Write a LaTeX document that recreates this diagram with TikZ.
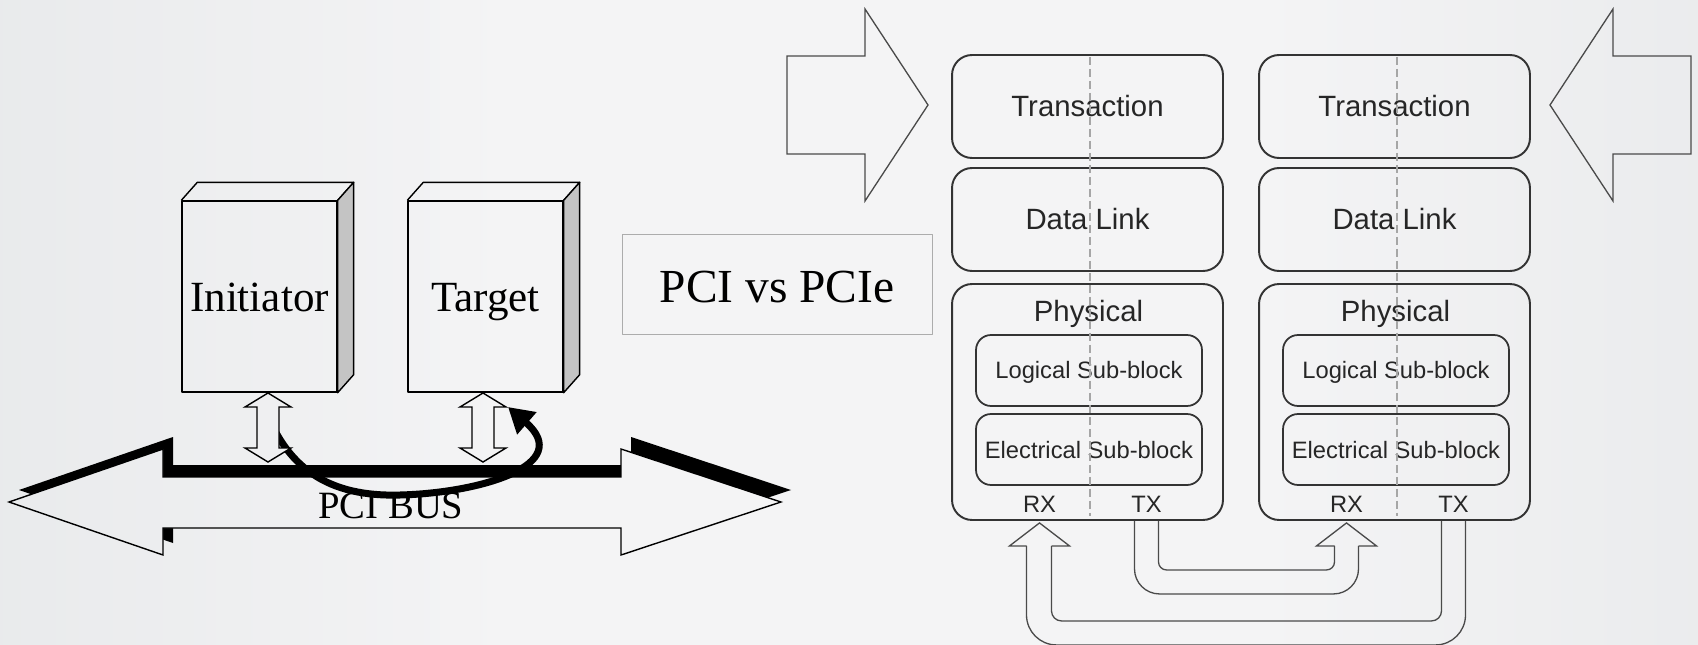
\documentclass[tikz,border=0pt]{standalone}
\usepackage{fontspec}
\setmainfont{Liberation Serif}
\setsansfont{Liberation Sans}
\usetikzlibrary{arrows.meta,calc}
\definecolor{bgedge}{HTML}{D3D7DA}
\definecolor{bgnear}{HTML}{E4E6E8}
\definecolor{bgmid}{HTML}{F4F4F5}
\definecolor{layerline}{HTML}{333333}
\definecolor{pipeline}{HTML}{4A4A4A}
\definecolor{sideface}{HTML}{C4C4C4}
\pgfdeclarehorizontalshading{pageshade}{100bp}{color(0bp)=(bgedge); color(18bp)=(bgnear); color(40bp)=(bgmid); color(62bp)=(bgmid); color(84bp)=(bgnear); color(100bp)=(bgedge)}
\newcommand{\pagebg}{\shade[shading=pageshade] (0,0) rectangle (1698,645);}
\newcommand{\buspath}{(9,502) -- (163,449) -- (163,477) -- (621,477) -- (621,449) -- (781,502) -- (621,555) -- (621,528) -- (163,528) -- (163,555) -- cycle}
\tikzset{
  chip/.style={draw=black, line width=0.8pt, minimum width=3.1cm, minimum height=3.82cm, inner sep=0pt},
  chiptext/.style={font=\fontsize{24.5}{29}\selectfont, anchor=base},
  layer/.style={draw=layerline, line width=1.1pt, rounded corners=0.4cm, minimum width=5.42cm, inner sep=0pt, text=black!85, font=\sffamily\fontsize{16.7}{20}\selectfont},
  layertext/.style={font=\sffamily\fontsize{16.7}{20}\selectfont, anchor=base, text=black!85},
  subblock/.style={draw=layerline, line width=1pt, rounded corners=0.3cm, minimum width=4.52cm, minimum height=1.42cm, inner sep=0pt},
  subtext/.style={font=\sffamily\fontsize{13.5}{16}\selectfont, anchor=base, text=black!85},
  pipe/.style={draw=pipeline, line width=0.75pt, line join=miter},
  bigarrow/.style={draw=pipeline, line width=0.75pt, line join=miter},
  split/.style={draw=gray!70, line width=0.8pt, dash pattern=on 0.16cm off 0.08cm},
}
\begin{document}
\begin{tikzpicture}[x=0.02cm, y=-0.02cm, line join=round]
  \useasboundingbox (0,0) rectangle (1698,645);
  \pagebg

  % PCI bus with its black shadow
  \fill[black, shift={(10,-12)}] \buspath;
  \begin{scope}
    \clip \buspath;
    \pagebg
  \end{scope}
  \draw[line width=0.8pt, line join=miter] \buspath;
  \node[font=\fontsize{22}{26}\selectfont, anchor=base] (busname) at (391,518) {PCI BUS};

  % transfer from initiator to target
  \coordinate (busfrom) at (262,400);
  \coordinate (busto) at (508,407);
  \draw[line width=0.14cm, -{Triangle[length=0.5cm,width=0.56cm]}] (busfrom) .. controls (285,470) and (330,497) .. (400,495) .. controls (480,493) and (575,465) .. (busto);

  % links between devices and bus
  \foreach \ax in {268,483}{
    \begin{scope}
      \clip (\ax,393) -- (\ax+23,407) -- (\ax+11,407) -- (\ax+11,448) -- (\ax+23,448) -- (\ax,462) -- (\ax-23,448) -- (\ax-11,448) -- (\ax-11,407) -- (\ax-23,407) -- cycle;
      \pagebg
    \end{scope}
    \draw[line width=0.8pt, line join=miter] (\ax,393) -- (\ax+23,407) -- (\ax+11,407) -- (\ax+11,448) -- (\ax+23,448) -- (\ax,462) -- (\ax-23,448) -- (\ax-11,448) -- (\ax-11,407) -- (\ax-23,407) -- cycle;
  }

  % devices
  \foreach \bx/\nm/\txt in {259.5/init/Initiator, 485.5/targ/Target}{
    \node[chip] (\nm) at (\bx,296.5) {};
    \draw[line width=0.8pt] (\nm.north west) -- ++(16,-18) -- ($(\nm.north east)+(16,-18)$) -- (\nm.north east);
    \filldraw[fill=sideface, line width=0.8pt] (\nm.north east) -- ++(16,-18) -- ($(\nm.south east)+(16,-18)$) -- (\nm.south east) -- cycle;
    \node[chiptext] (lbl\nm) at (\bx,312) {\txt};
  }

  % title
  \node[draw=gray!65, line width=0.6pt, minimum width=6.2cm, minimum height=2cm, inner sep=0pt] (title) at (777.7,284.3) {};
  \node[font=\fontsize{27}{32}\selectfont, anchor=base] (titletxt) at (777,303) {PCI vs PCIe};

  % PCIe layer stacks
  \foreach \cx/\s in {1087.5/L, 1394.5/R}{
    \node[layer, minimum height=2.06cm] (trans\s) at (\cx,106.5) {Transaction};
    \node[layer, minimum height=2.06cm] (link\s) at (\cx,219.5) {Data Link};
    \node[layer, minimum height=4.72cm] (phys\s) at (\cx,402) {};
    \node[layertext] (physname\s) at (\cx+1,322) {Physical};
    \node[subblock] (logic\s) at (\cx+1.5,370.5) {};
    \node[subtext] (logictxt\s) at (\cx+1.5,378.5) {Logical Sub-block};
    \node[subblock] (elec\s) at (\cx+1.5,449.5) {};
    \node[subtext] (electxt\s) at (\cx+1.5,458) {Electrical Sub-block};
    \node[subtext] (rx\s) at (\cx-48,512.5) {RX};
    \node[subtext] (tx\s) at (\cx+59,512.5) {TX};
    \draw[split] (\cx+2.5,57) -- (\cx+2.5,516);
  }

  % software side arrows
  \draw[bigarrow] (787,56) -- (865,56) -- (865,9) -- (928,105) -- (865,201) -- (865,154) -- (787,154) -- cycle;
  \draw[bigarrow] (1691,56) -- (1613,56) -- (1613,9) -- (1550,105) -- (1613,201) -- (1613,154) -- (1691,154) -- cycle;

  % lanes
  \coordinate (rxLb) at (rxL |- physL.south);
  \coordinate (txLb) at (txL |- physL.south);
  \coordinate (rxRb) at (rxR |- physR.south);
  \coordinate (txRb) at (txR |- physR.south);

  \draw[pipe, rounded corners=0.6cm] ($(txRb)+(12,0)$) |- ($(rxLb)+(-13,124)$) -- ($(rxLb)+(-13,25)$);
  \draw[pipe] ($(rxLb)+(-13,25)$) -- ($(rxLb)+(-30,25)$) -- ($(rxLb)+(0,2)$) -- ($(rxLb)+(30,25)$) -- ($(rxLb)+(12,25)$);
  \draw[pipe, rounded corners=0.2cm] ($(rxLb)+(12,25)$) |- ($(txRb)+(-12,100)$) -- ($(txRb)+(-12,0)$);

  \draw[pipe, rounded corners=0.5cm] ($(txLb)+(-12,0)$) |- ($(rxRb)+(12,73)$) -- ($(rxRb)+(12,25)$);
  \draw[pipe] ($(rxRb)+(12,25)$) -- ($(rxRb)+(30,25)$) -- ($(rxRb)+(0,2)$) -- ($(rxRb)+(-30,25)$) -- ($(rxRb)+(-12,25)$);
  \draw[pipe, rounded corners=0.16cm] ($(rxRb)+(-12,25)$) |- ($(txLb)+(12,49)$) -- ($(txLb)+(12,0)$);
\end{tikzpicture}
\end{document}
